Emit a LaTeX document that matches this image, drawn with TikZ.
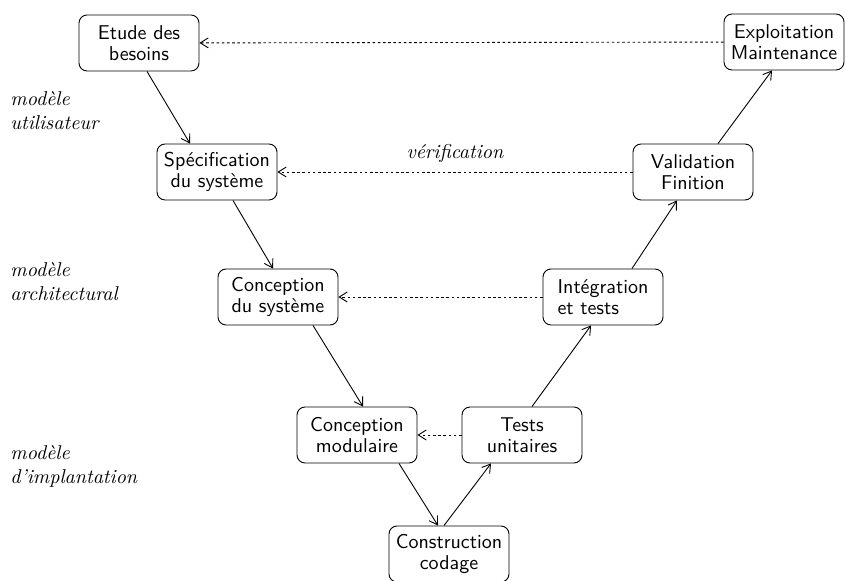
\documentclass[tikz,border=0pt]{standalone}
\usetikzlibrary{arrows.meta,calc}
\begin{document}
\begin{tikzpicture}[
    x=0.5pt, y=-0.5pt,
    >={Straight Barb[length=4pt,width=5pt]},
    every path/.style={line width=0.45pt},
    phase/.style={draw, rounded corners=4pt, align=center,
        font=\sffamily\fontsize{10}{10.5}\selectfont,
        minimum width=60pt, minimum height=28pt, inner sep=2pt},
    modele/.style={anchor=west, align=left, font=\itshape, inner sep=0pt},
    retour/.style={->, dash pattern=on 1.3pt off 1.3pt}
]
\useasboundingbox (0,0) rectangle (846,581);

% Descending branch
\node[phase] (etude) at (139,43) {Etude des\\besoins};
\node[phase] (specif) at (217,172) {Sp\'ecification\\du syst\`eme};
\node[phase] (concsys) at (278,297) {Conception\\du syst\`eme};
\node[phase] (concmod) at (357,435) {Conception\\modulaire};
\node[phase] (constr) at (449,554) {Construction\\codage};

% Ascending branch
\node[phase] (tests) at (522,435) {Tests\\unitaires};
\node[phase, align=left] (integ) at (603,297) {Int\'egration\\et tests};
\node[phase] (valid) at (693,172) {Validation\\Finition};
\node[phase] (exploit) at (784,42) {Exploitation\\Maintenance};

% Model levels
\node[modele] (lutil) at (10,111) {mod\`ele\\utilisateur};
\node[modele] (larch) at (10,282) {mod\`ele\\architectural};
\node[modele] (limpl) at (10,466) {mod\`ele\\d'implantation};

% Development arrows
\draw[->] ($(etude.south)+(8,0)$) -- ($(specif.north)+(-27,0)$);
\draw[->] ($(specif.south)+(16,0)$) -- ($(concsys.north)+(-5,0)$);
\draw[->] ($(concsys.south)+(35,0)$) -- ($(concmod.north)+(6,0)$);
\draw[->] ($(concmod.south)+(42,0)$) -- ($(constr.north)+(-11,0)$);
\draw[->] ($(constr.north)+(-5,0)$) -- ($(tests.south)+(-31,0)$);
\draw[->] ($(tests.north)+(10,0)$) -- ($(integ.south)+(-12,0)$);
\draw[->] ($(integ.north)+(29,0)$) -- ($(valid.south)+(-16,0)$);
\draw[->] ($(valid.north)+(25,0)$) -- ($(exploit.south)+(-12,0)$);

% Verification links
\draw[retour] (exploit) -- (etude);
\draw[retour] (valid) -- node[above=1pt, font=\itshape] (verif) {v\'erification} (specif);
\draw[retour] (integ) -- (concsys);
\draw[retour] (tests) -- (concmod);
\end{tikzpicture}
\end{document}
